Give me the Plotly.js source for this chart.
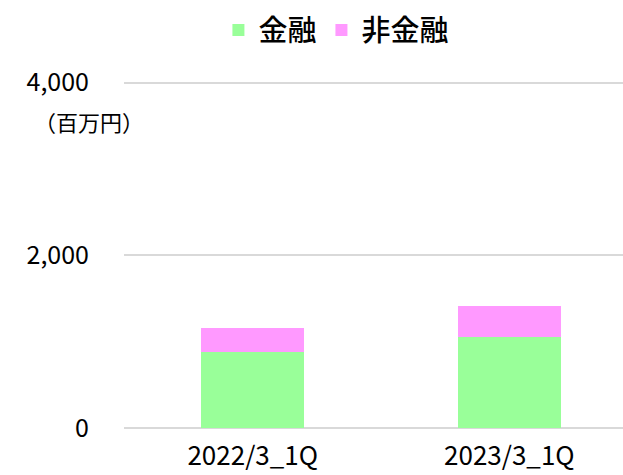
<!DOCTYPE html>
<html>
<head>
<meta charset="utf-8">
<script src="https://cdn.plot.ly/plotly-3.0.1.min.js"></script>
<style>html,body{margin:0;padding:0;background:#fff;}#chart{width:623px;height:475px;}</style>
</head>
<body>
<div id="chart"></div>
<script>
var categories = ['2022/3_1Q', '2023/3_1Q'];
var kinyu = [885, 1055];      // 金融
var hikinyu = [270, 355];     // 非金融
var seriesNames = ['金融', '非金融'];
var yTicks = [0, 2000, 4000];
var unitLabel = '（百万円）';

var FONT = '"Noto Sans CJK JP", "Noto Sans", sans-serif';

var traces = [
  {type: 'bar', name: seriesNames[0], x: categories, y: kinyu,
   marker: {color: '#99FF99', line: {width: 0}}, hoverinfo: 'y'},
  {type: 'bar', name: seriesNames[1], x: categories, y: hikinyu,
   marker: {color: '#FF99FF', line: {width: 0}}, hoverinfo: 'y'}
];

var layout = {
  width: 623, height: 475,
  margin: {l: 124, r: 0, t: 74, b: 47, pad: 0},
  paper_bgcolor: '#ffffff', plot_bgcolor: '#ffffff',
  font: {family: FONT, color: '#000000', size: 24},
  barmode: 'stack',
  bargap: 0.6,
  showlegend: true,
  legend: {orientation: 'h', x: 0.54, xref: 'container', xanchor: 'center', y: 0.99, yref: 'container', yanchor: 'top',
           font: {size: 29, family: FONT, weight: 500}, traceorder: 'normal', itemwidth: 30, bgcolor: 'rgba(0,0,0,0)'},
  xaxis: {type: 'category', range: [-0.5016, 1.443], showgrid: false, zeroline: false, showline: false,
          ticks: '', tickfont: {size: 26, family: FONT}, ticklabelstandoff: 10, fixedrange: true},
  yaxis: {range: [0, 4100], tickvals: yTicks, ticktext: yTicks.map(function(v){return v.toLocaleString('en-US');}),
          showgrid: true, gridcolor: '#D9D9D9', gridwidth: 2,
          zeroline: true, zerolinecolor: '#D9D9D9', zerolinewidth: 2,
          showline: false, ticks: '', tickfont: {size: 25, family: FONT}, ticklabelstandoff: 34, fixedrange: true},
  annotations: [
    {text: unitLabel, xref: 'paper', yref: 'paper', x: -0.07, y: 0.866, xanchor: 'center', yanchor: 'middle',
     showarrow: false, font: {size: 22, family: FONT, color: '#000000'}}
  ]
};

Plotly.newPlot('chart', traces, layout, {displayModeBar: false, staticPlot: true});
</script>
</body>
</html>
